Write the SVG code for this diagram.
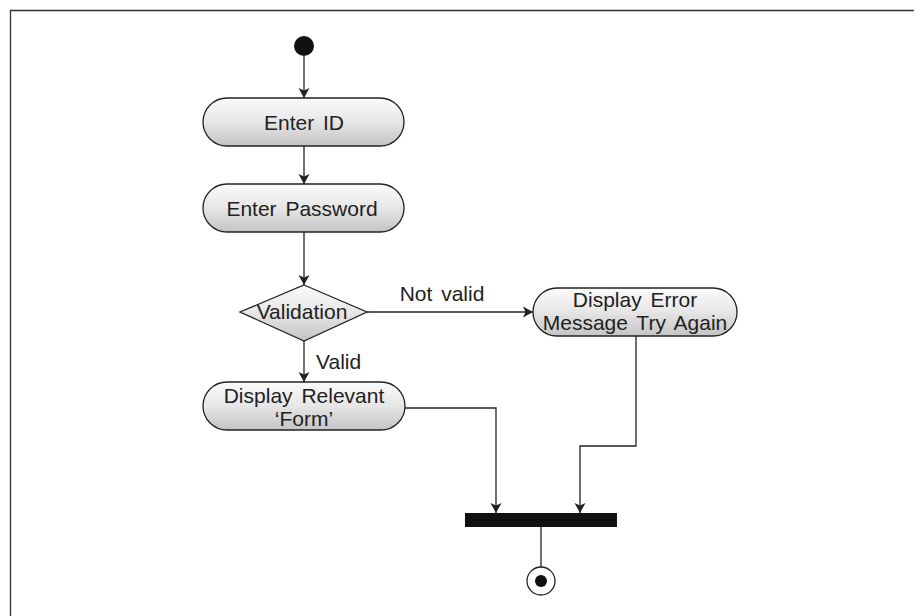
<svg xmlns="http://www.w3.org/2000/svg" width="914" height="616" viewBox="0 0 914 616">
<defs>
<linearGradient id="g" x1="0" y1="0" x2="0" y2="1">
<stop offset="0" stop-color="#fbfbfb"/>
<stop offset="0.5" stop-color="#e6e6e6"/>
<stop offset="1" stop-color="#c4c4c4"/>
</linearGradient>
<marker id="ah" viewBox="0 0 10 14" refX="10" refY="7" markerWidth="10" markerHeight="14" markerUnits="userSpaceOnUse" orient="auto">
<path d="M0,1.5 L10,7 L0,12.5 L2.5,7 Z" fill="#222"/>
</marker>
<style>
.n{fill:url(#g);stroke:#222;stroke-width:1.3}
.t{font-family:"Liberation Sans",Arial,sans-serif;font-size:21px;fill:#222;text-anchor:middle;word-spacing:3px}
.l{fill:none;stroke:#222;stroke-width:1.3}
</style>
</defs>
<rect width="914" height="616" fill="#fff"/>
<path d="M10.5,616 V10.5 H914" fill="none" stroke="#333" stroke-width="1.3"/>
<g id="start"><circle cx="304" cy="46" r="10" fill="#111"/></g>
<g id="enter-id"><rect class="n" x="203" y="98" width="201" height="48" rx="24"/><text class="t" x="304" y="130">Enter ID</text></g>
<g id="enter-password"><rect class="n" x="203" y="184" width="201" height="48" rx="24"/><text class="t" x="302" y="216">Enter Password</text></g>
<g id="validation"><path class="n" d="M304,285 L367,312 L304,341 L240,312 Z"/><text class="t" x="302" y="319">Validation</text></g>
<g id="display-error"><rect class="n" x="533" y="288" width="204" height="48" rx="24"/><text class="t" x="635" y="307">Display Error</text><text class="t" x="635" y="330">Message Try Again</text></g>
<g id="display-form"><rect class="n" x="203" y="382" width="202" height="48" rx="24"/><text class="t" x="304" y="403">Display Relevant</text><text class="t" x="304" y="426">‘Form’</text></g>
<g id="join"><rect x="465" y="513" width="152" height="14" fill="#111"/></g>
<g id="end"><circle cx="541" cy="581" r="14" fill="#fff" stroke="#222" stroke-width="1.3"/><circle cx="541" cy="581" r="6" fill="#111"/></g>
<g id="connectors">
<path class="l" d="M304,56 V98" marker-end="url(#ah)"/>
<path class="l" d="M304,146 V184" marker-end="url(#ah)"/>
<path class="l" d="M304,232 V285" marker-end="url(#ah)"/>
<path class="l" d="M367,312 H533" marker-end="url(#ah)"/>
<path class="l" d="M304,341 V382" marker-end="url(#ah)"/>
<path class="l" d="M405,408 H496 V513" marker-end="url(#ah)"/>
<path class="l" d="M636,336 V446 H580 V513" marker-end="url(#ah)"/>
<path class="l" d="M541,527 V567"/>
<text class="t" x="442" y="301">Not valid</text>
<text class="t" x="316" y="369" style="text-anchor:start">Valid</text>
</g>
</svg>
